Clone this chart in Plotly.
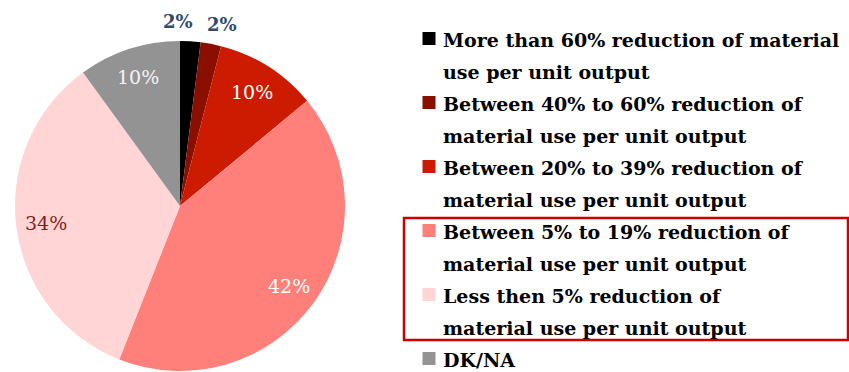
import math
import plotly.graph_objects as go

# Survey shares by expected reduction of material use per unit output
categories = [
    "More than 60% reduction of material<br>use per unit output",
    "Between 40% to 60% reduction of<br>material use per unit output",
    "Between 20% to 39% reduction of<br>material use per unit output",
    "Between 5% to 19% reduction of<br>material use per unit output",
    "Less then 5% reduction of<br>material use per unit output",
    "DK/NA",
]
shares = [2, 2, 10, 42, 34, 10]
slice_colors = ["#000000", "#8b0f00", "#cc1b00", "#ff7f7a", "#ffd5d5", "#939393"]
label_colors = ["#2f4a6d", "#2f4a6d", "#ffffff", "#ffffff", "#8b1a1a", "#f4f4f4"]
highlighted = [3, 4]  # legend entries boxed in red

W, H = 849, 372
CX, CY, R = 180, 206, 165  # pie centre and radius in pixels

fig = go.Figure(
    go.Pie(
        labels=[c.replace("<br>", " ") for c in categories],
        values=shares,
        sort=False,
        direction="clockwise",
        rotation=0,
        marker=dict(colors=slice_colors, line=dict(width=0)),
        textinfo="none",
        hoverinfo="label+percent",
        showlegend=False,
        domain=dict(x=[(CX - R) / W, (CX + R) / W], y=[1 - (CY + R) / H, 1 - (CY - R) / H]),
    )
)


def px_x(x):
    return x / W


def px_y(y):
    return 1 - y / H


# Percentage labels placed along each slice's mid-angle
total = sum(shares)
cum = 0
annotations = []
for i, v in enumerate(shares):
    mid = (cum + v / 2) / total * 2 * math.pi
    cum += v
    small = v / total < 0.05
    rf = 1.12 if small else 0.82
    lx = CX + rf * R * math.sin(mid)
    ly = CY - rf * R * math.cos(mid)
    xshift = 0
    if small:
        xshift = -14 if i == 0 else 7
    annotations.append(
        dict(
            x=px_x(lx), y=px_y(ly), xref="paper", yref="paper",
            xanchor="center", yanchor="middle",
            text=f"{v}%", showarrow=False, xshift=xshift,
            font=dict(
                family="DejaVu Serif",
                size=18 if small else 19,
                color=label_colors[i],
                weight="bold" if small else "normal",
            ),
        )
    )

# Legend: colour square + wrapped label, one text line every LINE_PITCH px
LEG_X_SQ, LEG_X_TXT, LEG_Y0, LINE_PITCH, SQ = 429, 441, 40, 32, 13
shapes = []
line_idx = 0
box_top = box_bottom = None
for i, cat in enumerate(categories):
    lines = cat.split("<br>")
    y_first = LEG_Y0 + line_idx * LINE_PITCH
    sq_cy = y_first - 1.5
    shapes.append(
        dict(
            type="rect", xref="paper", yref="paper",
            x0=px_x(LEG_X_SQ - SQ / 2), x1=px_x(LEG_X_SQ + SQ / 2),
            y0=px_y(sq_cy + SQ / 2), y1=px_y(sq_cy - SQ / 2),
            fillcolor=slice_colors[i], line=dict(width=0),
        )
    )
    for ln in lines:
        y = LEG_Y0 + line_idx * LINE_PITCH
        annotations.append(
            dict(
                x=px_x(LEG_X_TXT), y=px_y(y), xref="paper", yref="paper",
                xanchor="left", yanchor="middle", showarrow=False,
                text=ln,
                font=dict(family="DejaVu Serif", size=19, color="#000000", weight="bold"),
            )
        )
        line_idx += 1
    y_last = LEG_Y0 + (line_idx - 1) * LINE_PITCH
    if i == highlighted[0]:
        box_top = y_first - 14
    if i == highlighted[-1]:
        box_bottom = y_last + 12

shapes.append(
    dict(
        type="rect", xref="paper", yref="paper",
        x0=px_x(404), x1=px_x(848), y0=px_y(box_bottom), y1=px_y(box_top),
        line=dict(color="#cc0000", width=2.5),
    )
)

fig.update_layout(
    width=W,
    height=H,
    margin=dict(l=0, r=0, t=0, b=0),
    paper_bgcolor="white",
    plot_bgcolor="white",
    annotations=annotations,
    shapes=shapes,
)

fig.write_html("out.html")
